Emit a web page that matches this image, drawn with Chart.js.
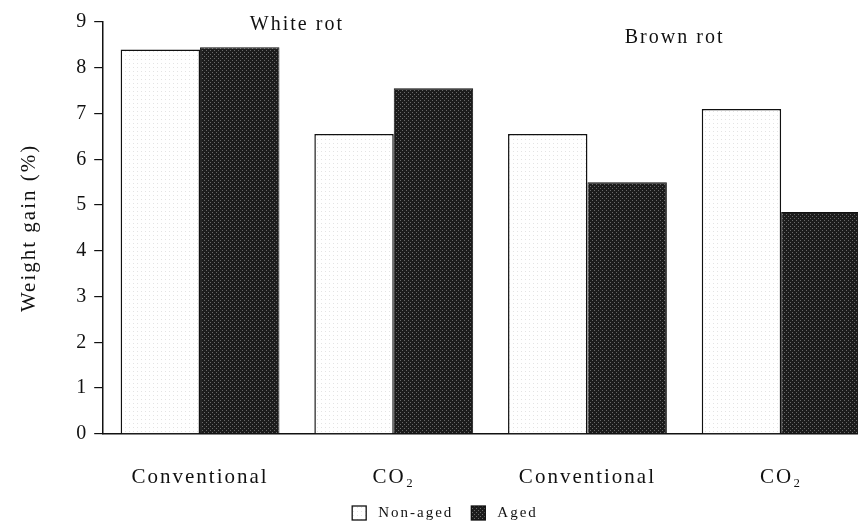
<!DOCTYPE html>
<html>
<head>
<meta charset="utf-8">
<script src="https://cdn.jsdelivr.net/npm/chart.js@4.4.1/dist/chart.umd.min.js"></script>
<style>
  html, body { margin: 0; padding: 0; background: #fff; overflow: hidden; }
  /* the printed figure runs past the right edge of the scan, so the canvas does too */
  #wrap { width: 878px; height: 527px; }
</style>
</head>
<body>
<div id="wrap"><canvas id="chart"></canvas></div>
<script>
// data
const categories = ['Conventional', 'CO\u2082', 'Conventional', 'CO\u2082'];
const nonAged = [8.4, 6.55, 6.55, 7.1];
const aged = [8.45, 7.55, 5.5, 4.85];
const yTicks = [0, 1, 2, 3, 4, 5, 6, 7, 8, 9];
const groupNotes = [
  { text: 'White rot', at: 0.5, y: 8.95 },
  { text: 'Brown rot', at: 2.45, y: 8.65 }
];

const serif = "'Liberation Serif', 'DejaVu Serif', serif";

// halftone-ish fills like the printed figure
function makePattern(bg, dot, cells) {
  const c = document.createElement('canvas');
  c.width = 4; c.height = 4;
  const g = c.getContext('2d');
  g.fillStyle = bg;
  g.fillRect(0, 0, 4, 4);
  g.fillStyle = dot;
  cells.forEach(p => g.fillRect(p[0], p[1], 1, 1));
  return g.createPattern(c, 'repeat');
}
const ctx = document.getElementById('chart').getContext('2d');
const darkFill = makePattern('#1c1c1c', '#6a6a6a', [[0, 0], [2, 2]]);
const lightFill = makePattern('#ffffff', '#e4e4e4', [[1, 3]]);

// the print uses a loosely tracked serif
const spacingPlugin = {
  id: 'tracking',
  beforeLayout(chart) { chart.ctx.letterSpacing = '2px'; },
  beforeDraw(chart) { chart.ctx.letterSpacing = '2px'; }
};

const notesPlugin = {
  id: 'notes',
  afterDatasetsDraw(chart) {
    const x = chart.scales.x, y = chart.scales.y, c = chart.ctx;
    c.save();
    c.fillStyle = '#111';
    c.font = '20px ' + serif;
    c.textAlign = 'center';
    c.textBaseline = 'middle';
    groupNotes.forEach(n => {
      c.fillText(n.text, x.getPixelForValue(n.at), y.getPixelForValue(n.y));
    });
    c.restore();
  }
};

// small legend under the axis labels, spaced like the print
const legendPlugin = {
  id: 'printLegend',
  afterDraw(chart) {
    const c = chart.ctx;
    const sets = chart.data.datasets;
    const box = 14, gapText = 12, gapItem = 18;
    c.save();
    c.font = '15px ' + serif;
    c.textBaseline = 'middle';
    let total = 0;
    sets.forEach((ds, i) => {
      total += box + gapText + c.measureText(ds.label).width + (i < sets.length - 1 ? gapItem : 0);
    });
    let px = 445 - total / 2;
    const cy = 513;
    sets.forEach(ds => {
      c.fillStyle = ds.backgroundColor;
      c.fillRect(px, cy - box / 2, box, box);
      c.strokeStyle = '#111';
      c.lineWidth = 1.3;
      c.strokeRect(px, cy - box / 2, box, box);
      px += box + gapText;
      c.fillStyle = '#111';
      c.fillText(ds.label, px, cy);
      px += c.measureText(ds.label).width + gapItem;
    });
    c.restore();
  }
};

new Chart(ctx, {
  type: 'bar',
  data: {
    labels: categories,
    datasets: [
      {
        label: 'Non-aged',
        data: nonAged,
        backgroundColor: lightFill,
        borderColor: '#111',
        borderWidth: 1.5,
        borderSkipped: 'bottom'
      },
      {
        label: 'Aged',
        data: aged,
        backgroundColor: darkFill,
        borderColor: '#111',
        borderWidth: 1,
        borderSkipped: 'bottom'
      }
    ]
  },
  options: {
    responsive: true,
    maintainAspectRatio: false,
    animation: false,
    datasets: {
      bar: { barPercentage: 1.0, categoryPercentage: 0.82 }
    },
    layout: { padding: { left: 13, right: 0, top: 22, bottom: 14 } },
    plugins: {
      legend: { display: false },
      tooltip: { enabled: false }
    },
    scales: {
      y: {
        min: 0,
        max: 9,
        afterBuildTicks(axis) { axis.ticks = yTicks.map(v => ({ value: v })); },
        border: { color: '#111', width: 1.5 },
        grid: { drawOnChartArea: false, color: '#111', tickLength: 9, lineWidth: 1.2 },
        ticks: { color: '#111', padding: 6, font: { family: serif, size: 20 } },
        title: {
          display: true,
          text: 'Weight gain (%)',
          color: '#111',
          padding: { bottom: 28 },
          font: { family: serif, size: 21 }
        }
      },
      x: {
        border: { color: '#111', width: 1.5 },
        grid: { display: false },
        ticks: { color: '#111', padding: 23, font: { family: serif, size: 21 } }
      }
    }
  },
  plugins: [spacingPlugin, notesPlugin, legendPlugin]
});
</script>
</body>
</html>
